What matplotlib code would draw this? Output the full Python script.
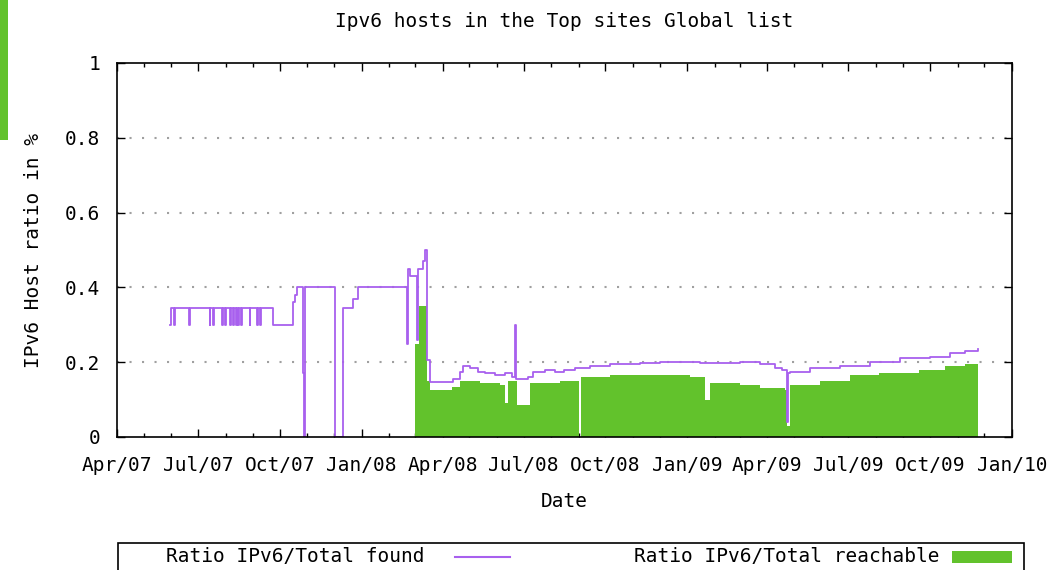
import pandas as pd
import numpy as np
import matplotlib.pyplot as plt
import matplotlib.dates as mdates
from matplotlib.patches import Rectangle
from matplotlib.lines import Line2D

# Ratio IPv6/Total found
found_dates = ['2007-05-31', '2007-06-01', '2007-06-04', '2007-06-05', '2007-06-21', '2007-06-22',
               '2007-07-14', '2007-07-15', '2007-07-18', '2007-07-19', '2007-07-28', '2007-07-29',
               '2007-07-31', '2007-08-01', '2007-08-06', '2007-08-07', '2007-08-09', '2007-08-10',
               '2007-08-13', '2007-08-14', '2007-08-15', '2007-08-16', '2007-08-18', '2007-08-19',
               '2007-08-28', '2007-08-29', '2007-09-05', '2007-09-06', '2007-09-09', '2007-09-10',
               '2007-09-23', '2007-10-16', '2007-10-18', '2007-10-20', '2007-10-27', '2007-10-28',
               '2007-10-29', '2007-12-02', '2007-12-11', '2007-12-22', '2007-12-28', '2008-02-21',
               '2008-02-22', '2008-02-24', '2008-03-03', '2008-03-04', '2008-03-10', '2008-03-12',
               '2008-03-14', '2008-03-18', '2008-04-13', '2008-04-20', '2008-04-24', '2008-05-02',
               '2008-05-11', '2008-05-19', '2008-05-30', '2008-06-10', '2008-06-18', '2008-06-21',
               '2008-06-22', '2008-07-06', '2008-07-12', '2008-07-25', '2008-08-05', '2008-08-16',
               '2008-08-28', '2008-09-14', '2008-10-06', '2008-11-09', '2008-12-01', '2009-01-15',
               '2009-03-01', '2009-03-24', '2009-04-10', '2009-04-18', '2009-04-23', '2009-04-24',
               '2009-04-26', '2009-05-19', '2009-06-22', '2009-07-25', '2009-08-28', '2009-10-01',
               '2009-10-23', '2009-11-09', '2009-11-24']
found_vals = [0.30, 0.345, 0.30, 0.345, 0.30, 0.345,
              0.30, 0.345, 0.30, 0.345, 0.30, 0.345,
              0.30, 0.345, 0.30, 0.345, 0.30, 0.345,
              0.30, 0.345, 0.30, 0.345, 0.30, 0.345,
              0.30, 0.345, 0.30, 0.345, 0.30, 0.345,
              0.30, 0.36, 0.38, 0.40, 0.17, 0.0,
              0.40, 0.0, 0.345, 0.37, 0.40, 0.25,
              0.45, 0.43, 0.26, 0.45, 0.47, 0.50,
              0.205, 0.147, 0.155, 0.175, 0.19, 0.185,
              0.175, 0.17, 0.165, 0.17, 0.16, 0.30,
              0.155, 0.16, 0.175, 0.18, 0.175, 0.18,
              0.185, 0.19, 0.195, 0.197, 0.20, 0.198,
              0.20, 0.195, 0.185, 0.18, 0.04, 0.17,
              0.175, 0.185, 0.19, 0.20, 0.21, 0.215,
              0.225, 0.23, 0.235]

# Ratio IPv6/Total reachable
reach_dates = ['2008-03-01', '2008-03-06', '2008-03-14', '2008-03-18', '2008-04-11', '2008-04-20',
               '2008-05-13', '2008-06-04', '2008-06-10', '2008-06-13', '2008-06-24', '2008-07-08',
               '2008-08-11', '2008-09-01', '2008-09-03', '2008-10-06', '2008-11-20', '2009-01-04',
               '2009-01-21', '2009-01-26', '2009-03-01', '2009-03-24', '2009-04-21', '2009-04-23',
               '2009-04-26', '2009-05-30', '2009-07-03', '2009-08-05', '2009-09-19', '2009-10-18',
               '2009-11-09', '2009-11-24']
reach_vals = [0.25, 0.35, 0.15, 0.125, 0.135, 0.15,
              0.145, 0.14, 0.09, 0.15, 0.085, 0.145,
              0.15, 0.0, 0.16, 0.165, 0.165, 0.16,
              0.10, 0.145, 0.14, 0.13, 0.125, 0.03,
              0.14, 0.15, 0.165, 0.17, 0.18, 0.19,
              0.195, 0.20]

purple = '#a860ee'
green = '#62c22c'
font = 'DejaVu Sans Mono'
plt.rcParams['font.family'] = font
plt.rcParams['font.size'] = 14

fd = pd.to_datetime(found_dates)
rd = pd.to_datetime(reach_dates)

fig = plt.figure(figsize=(10.64, 5.70), dpi=100)
ax = fig.add_axes([117/1064, 1-437/570, (1012-117)/1064, (437-63)/570])

ax.fill_between(rd, reach_vals, step='post', color=green, lw=0, zorder=2)
ax.plot(fd, found_vals, drawstyle='steps-post', color=purple, lw=1.3, zorder=3)

ax.set_xlim(pd.Timestamp('2007-04-01'), pd.Timestamp('2010-01-01'))
ax.set_ylim(0, 1)
ax.set_yticks([0, 0.2, 0.4, 0.6, 0.8, 1])
ax.set_yticklabels(['0', '0.2', '0.4', '0.6', '0.8', '1'])
ax.xaxis.set_major_locator(mdates.MonthLocator(bymonth=[1, 4, 7, 10]))
ax.xaxis.set_minor_locator(mdates.MonthLocator())
ax.xaxis.set_major_formatter(mdates.DateFormatter('%b/%y'))

for y in [0.2, 0.4, 0.6, 0.8]:
    ax.axhline(y, color='#a0a0a0', lw=1.5, linestyle=(0, (1, 5)), zorder=1)

ax.tick_params(direction='in', top=True, right=True, length=6, width=1, labelsize=14)
ax.tick_params(axis='x', pad=14)
ax.tick_params(axis='y', pad=12)
ax.tick_params(which='minor', direction='in', top=True, length=3, width=1)
for s in ax.spines.values():
    s.set_linewidth(1.2)
    s.set_zorder(5)

ax.set_title('Ipv6 hosts in the Top sites Global list', fontsize=14, pad=26)
ax.set_xlabel('Date', fontsize=14, labelpad=12)
ax.set_ylabel('IPv6 Host ratio in %', fontsize=14, labelpad=16)

# legend box at the bottom (gnuplot style: text then sample)
fig.patches.append(Rectangle((118/1064, -0.05), (1024-118)/1064, 0.05+(1-543/570),
                             transform=fig.transFigure, fill=False, ec='black', lw=1.2))
fig.text(425/1064, 1-557/570, 'Ratio IPv6/Total found', ha='right', va='center', fontsize=14)
fig.lines.append(Line2D([455/1064, 510/1064], [1-557/570, 1-557/570],
                        transform=fig.transFigure, color=purple, lw=1.5))
fig.text(940/1064, 1-557/570, 'Ratio IPv6/Total reachable', ha='right', va='center', fontsize=14)
fig.patches.append(Rectangle((952/1064, 1-563/570), 60/1064, 12/570,
                             transform=fig.transFigure, color=green, lw=0))

# green strip at the left edge of the screenshot
fig.patches.append(Rectangle((0, 1-140/570), 8/1064, 140/570,
                             transform=fig.transFigure, color=green, lw=0))

fig.savefig('out.png', dpi=100)
